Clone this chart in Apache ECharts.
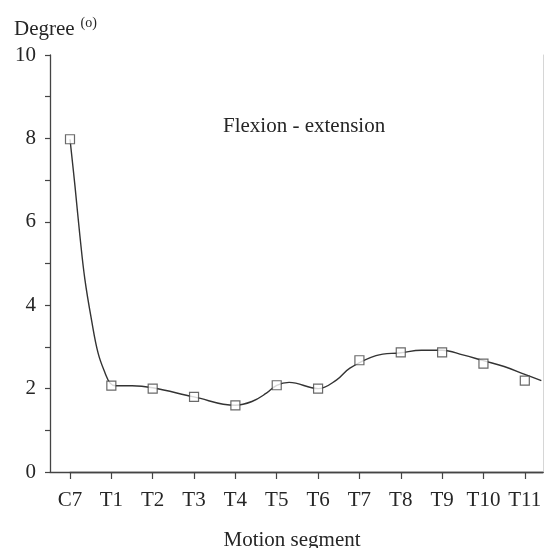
<!DOCTYPE html>
<html>
<head>
<meta charset="utf-8">
<script src="https://cdn.jsdelivr.net/npm/echarts@6/dist/echarts.min.js"></script>
<style>
html,body{margin:0;padding:0;background:#fff;}
#chart{width:545px;height:548px;}
</style>
</head>
<body>
<div id="chart"></div>
<script>
var categories = ['C7','T1','T2','T3','T4','T5','T6','T7','T8','T9','T10','T11'];
var degrees = [7.98, 2.07, 2.0, 1.8, 1.6, 2.08, 2.0, 2.68, 2.87, 2.87, 2.6, 2.19];
// fitted curve (position along segments, degree)
var curveX = [0, 0.12, 0.24, 0.36, 0.52, 0.68, 0.85, 0.97, 1.1, 1.5, 2, 3, 4, 4.4, 4.75, 5, 5.3, 6, 6.45, 6.77, 7.4, 8, 8.5, 9, 9.5, 10, 10.5, 11, 11.4];
var curveY = [7.98, 6.86, 5.66, 4.62, 3.65, 2.85, 2.37, 2.13, 2.07, 2.07, 2.02, 1.8, 1.6, 1.69, 1.89, 2.08, 2.15, 2.0, 2.21, 2.49, 2.79, 2.86, 2.92, 2.92, 2.81, 2.67, 2.53, 2.34, 2.19];
var yTicks = [0,1,2,3,4,5,6,7,8,9,10];
var yLabels = [0,2,4,6,8,10];

var FONT = '"Liberation Serif","DejaVu Serif",serif';
var INK = '#262626';

var chart = echarts.init(document.getElementById('chart'));
var idx = categories.map(function(c,i){return i;});
chart.setOption({
  animation:false,
  backgroundColor:'#fff',
  title:[
    {text:'Degree{s|(o)}', left:9, top:11,
     textStyle:{fontFamily:FONT, fontSize:21, fontWeight:'normal', color:INK,
       rich:{s:{fontFamily:FONT, fontSize:14, color:INK, padding:[0,0,12,6]}}}},
    {text:'Flexion - extension', left:218, top:111,
     textStyle:{fontFamily:FONT, fontSize:21, fontWeight:'normal', color:INK}},
    {text:'Motion segment', left:287, textAlign:'center', top:525,
     textStyle:{fontFamily:FONT, fontSize:21, fontWeight:'normal', color:INK}}
  ],
  grid:[
    {left:50, right:2, top:55, bottom:76},
    {left:70, right:2, top:55, bottom:76}
  ],
  xAxis:[
    {gridIndex:0, type:'value', position:'top', min:0, max:1,
     axisLine:{show:true, lineStyle:{color:'#444', width:1.3}},
     axisTick:{show:false}, axisLabel:{show:false}, splitLine:{show:false}},
    {gridIndex:1, type:'value', position:'bottom', min:0, max:11.44,
     axisLine:{show:true, onZero:false, lineStyle:{color:'#444', width:1.3}},
     axisTick:{show:true, inside:false, length:7, customValues:idx, lineStyle:{color:'#444', width:1.2}},
     axisLabel:{show:true, customValues:idx, margin:18, fontFamily:FONT, fontSize:21, color:INK,
       formatter:function(v){return categories[Math.round(v)];}},
     splitLine:{show:false}}
  ],
  yAxis:[
    {gridIndex:0, type:'value', position:'left', min:0, max:10,
     axisLine:{show:true, lineStyle:{color:'#444', width:1.3}},
     axisTick:{show:true, length:5, customValues:yTicks, lineStyle:{color:'#444', width:1.2}},
     axisLabel:{show:true, customValues:yLabels, margin:14, fontFamily:FONT, fontSize:21, color:INK},
     splitLine:{show:false}},
    {gridIndex:0, type:'value', position:'right', min:0, max:10,
     axisLine:{show:true, lineStyle:{color:'#d6d6d6', width:1}},
     axisTick:{show:false}, axisLabel:{show:false}, splitLine:{show:false}},
    {gridIndex:1, type:'value', min:0, max:10, show:false}
  ],
  series:[
    {type:'line', xAxisIndex:1, yAxisIndex:2, showSymbol:false, symbol:'none',
     smooth:0.4,
     lineStyle:{color:'#333', width:1.4},
     data:curveX.map(function(x,i){return [x, curveY[i]];}), z:2},
    {type:'scatter', xAxisIndex:1, yAxisIndex:2, symbol:'rect', symbolSize:9,
     itemStyle:{color:'#fff', borderColor:'#444', borderWidth:1.2},
     data:degrees.map(function(v,i){return [i, v];}), z:3}
  ]
});
</script>
</body>
</html>
